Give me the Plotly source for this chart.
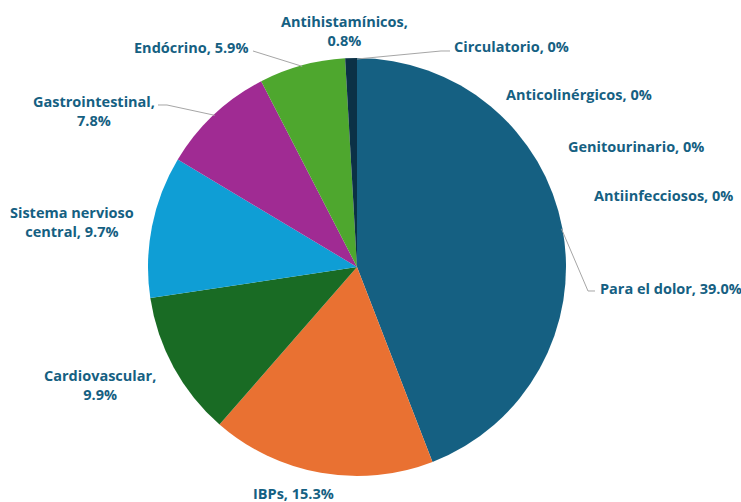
import numpy as np
import plotly.graph_objects as go

# Drug categories and their share (%) of prescriptions
categorias = [
    "Circulatorio", "Anticolinérgicos", "Genitourinario", "Antiinfecciosos",
    "Para el dolor", "IBPs", "Cardiovascular", "Sistema nervioso central",
    "Gastrointestinal", "Endócrino", "Antihistamínicos",
]
porcentajes = [0, 0, 0, 0, 39.0, 15.3, 9.9, 9.7, 7.8, 5.9, 0.8]
colores = [
    "#156082", "#E97132", "#196B24", "#0F9ED5",
    "#156082", "#E97132", "#196B24", "#0F9ED5", "#A02B93", "#4EA72E", "#0B3146",
]

W, H = 741, 502
CX, CY, R = 357, 267, 209  # pie centre / radius in pixels
TEXT_COLOR = "#156082"
FONT = dict(family="'Open Sans', Lato, sans-serif", size=14.5, color=TEXT_COLOR)

def px(x, y):
    return x / W, 1 - y / H

fig = go.Figure(go.Pie(
    labels=categorias,
    values=porcentajes,
    marker=dict(colors=colores, line=dict(width=0)),
    sort=False,
    direction="clockwise",
    rotation=0,
    textinfo="none",
    hoverinfo="label+value",
    showlegend=False,
    domain=dict(x=[(CX - R) / W, (CX + R) / W], y=[1 - (CY + R) / H, 1 - (CY - R) / H]),
))

# Angular position (clockwise from 12 o'clock) of the middle of each slice
vals = np.array(porcentajes, dtype=float)
frac = vals / vals.sum()
ends = np.cumsum(frac)
mids = (ends - frac / 2) * 2 * np.pi

def edge(i, rr=R):
    a = mids[i]
    return CX + rr * np.sin(a), CY - rr * np.cos(a)

# label placement: (x, y, anchor, break after name, leader-line bend points)
placement = {
    "Circulatorio": (452, 46, "left", False, [(441, 51), (450, 51)]),
    "Anticolinérgicos": (504, 94, "left", False, None),
    "Genitourinario": (566, 147, "left", False, None),
    "Antiinfecciosos": (592, 195, "left", False, None),
    "Para el dolor": (598, 288, "left", False, [(588, 291), (595, 291)]),
    "IBPs": (293, 493, "center", False, None),
    "Cardiovascular": (100, 385, "center", True, None),
    "Sistema nervioso central": (72, 222, "center", True, None),
    "Gastrointestinal": (94, 111, "center", True, [(167, 105), (158, 105)]),
    "Endócrino": (191, 47, "center", False, [(253, 51)]),
    "Antihistamínicos": (344, 31, "center", True, None),
}

def fmt(v):
    return "0%" if v == 0 else f"{v:.1f}%"

annotations, shapes = [], []
for i, (name, v) in enumerate(zip(categorias, porcentajes)):
    x, y, anchor, brk, bend = placement[name]
    if name == "Sistema nervioso central":
        text = f"<b>Sistema nervioso<br>central, {fmt(v)}</b>"
    else:
        text = f"<b>{name},{'<br>' if brk else ' '}{fmt(v)}</b>"
    ax, ay = px(x, y)
    annotations.append(dict(
        x=ax, y=ay, xref="paper", yref="paper", text=text, showarrow=False,
        xanchor=anchor, yanchor="middle", align="center", font=FONT,
    ))
    if bend:
        ex, ey = edge(i, R - 1)
        pts = [(ex, ey)] + bend
        path = "M " + " L ".join(f"{px(a, b)[0]:.5f},{px(a, b)[1]:.5f}" for a, b in pts)
        shapes.append(dict(type="path", xref="paper", yref="paper", path=path,
                           line=dict(color="#A6A6A6", width=1)))

fig.update_layout(
    width=W, height=H,
    margin=dict(l=0, r=0, t=0, b=0),
    paper_bgcolor="white", plot_bgcolor="white",
    annotations=annotations, shapes=shapes,
)
fig.write_html("out.html")
